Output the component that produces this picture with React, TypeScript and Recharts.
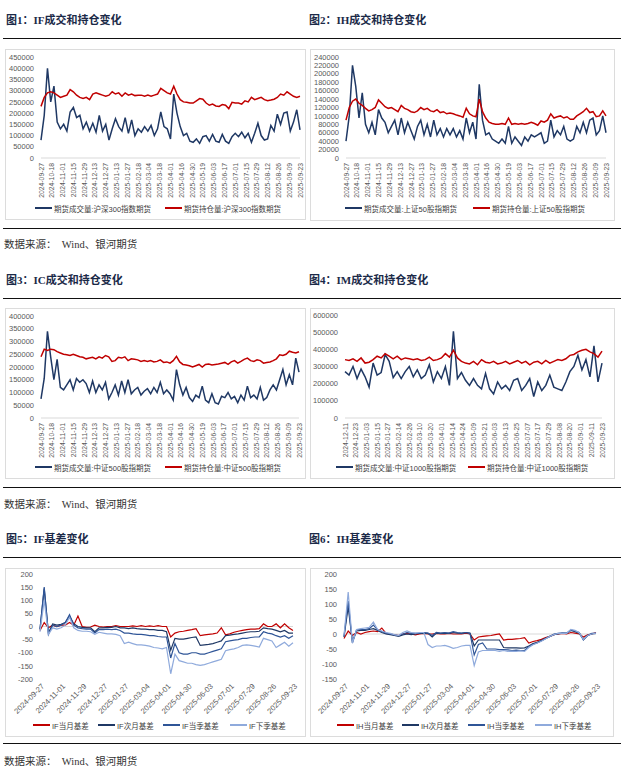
import React from "react";
import { LineChart, Line, XAxis, YAxis, ReferenceLine } from "recharts";

const NAVY = "#1f3864";
const RED = "#c00000";
const BLUE = "#2f5597";
const LIGHT = "#8faadc";
const AXIS_TEXT = "#595959";
const SANS = "'Liberation Sans', 'Noto Sans CJK SC', sans-serif";
const SERIF = "'Liberation Serif', 'Noto Sans CJK SC', serif";

// x-axis labels
const dailyLabels = [
  "2024-09-27", "2024-10-18", "2024-11-01", "2024-11-15", "2024-11-29", "2024-12-13",
  "2024-12-27", "2025-01-13", "2025-01-27", "2025-02-18", "2025-03-04", "2025-03-18",
  "2025-04-01", "2025-04-16", "2025-04-30", "2025-05-19", "2025-06-03", "2025-06-17",
  "2025-07-01", "2025-07-15", "2025-07-29", "2025-08-12", "2025-08-26", "2025-09-09",
  "2025-09-23",
];
const dailyTickDays = [0, 10, 20, 30, 40, 50, 60, 70, 80, 90, 100, 110, 120, 130, 140, 150, 160, 170, 180, 190, 200, 210, 220, 230, 240];

const imLabels = [
  "2024-12-11", "2024-12-23", "2025-01-03", "2025-01-15", "2025-01-27", "2025-02-14",
  "2025-02-26", "2025-03-10", "2025-03-20", "2025-04-01", "2025-04-14", "2025-04-24",
  "2025-05-09", "2025-05-21", "2025-06-03", "2025-06-13", "2025-06-25", "2025-07-07",
  "2025-07-17", "2025-07-29", "2025-08-08", "2025-08-20", "2025-09-01", "2025-09-11",
  "2025-09-23",
];
const imTickDays = [0, 8, 16, 24, 32, 40, 48, 56, 64, 72, 80, 88, 96, 104, 112, 120, 128, 136, 144, 152, 160, 168, 176, 184, 192];

const basisLabels = [
  "2024-09-27", "2024-11-01", "2024-11-29", "2024-12-27", "2025-01-27", "2025-03-04",
  "2025-04-01", "2025-04-30", "2025-06-03", "2025-07-01", "2025-07-29", "2025-08-26",
  "2025-09-23",
];
const basisTickDays = [0, 20, 40, 60, 80, 100, 120, 140, 160, 180, 200, 220, 240];

// y-axis ticks (volume charts in thousands)
const ifTicks = [0, 50, 100, 150, 200, 250, 300, 350, 400, 450];
const ihTicks = [0, 20, 40, 60, 80, 100, 120, 140, 160, 180, 200, 220, 240];
const icTicks = [0, 50, 100, 150, 200, 250, 300, 350, 400];
const imTicks = [0, 100, 200, 300, 400, 500, 600];
const ifBasisTicks = [-200, -150, -100, -50, 0, 50, 100, 150, 200];
const ihBasisTicks = [-150, -100, -50, 0, 50, 100, 150, 200];

// 图1 IF, every 3 trading days, thousands
const ifVolume = [
  80, 190, 400, 250, 320, 160, 130, 150, 120, 205,
  225, 180, 190, 130, 160, 120, 155, 115, 190, 120,
  150, 80, 130, 175, 140, 120, 180, 110, 170, 100,
  130, 115, 140, 120, 145, 100, 130, 205, 140, 130,
  85, 285, 200, 140, 100, 110, 75, 70, 85, 65,
  95, 100, 75, 105, 75, 70, 105, 75, 65, 95,
  110, 95, 115, 90, 110, 70, 110, 155, 100, 80,
  85, 145, 120, 195, 150, 200, 205, 120, 160, 215,
  125,
];
const ifOpenInt = [
  230, 270, 290, 295, 290, 280, 270, 275, 280, 305,
  295, 280, 270, 265, 270, 260, 285, 290, 285, 280,
  275, 280, 295, 285, 290, 275, 290, 280, 285, 278,
  280, 280, 275, 280, 275, 280, 285, 310, 300, 290,
  285, 320, 285, 260, 250, 248, 245, 245, 255, 265,
  262, 245, 235, 240, 232, 230, 238, 235, 220, 248,
  245, 245, 240, 255, 250, 270, 260, 265, 270, 260,
  255, 258, 262, 270, 285, 280, 295, 285, 275, 270,
  275,
];

// 图2 IH
const ihVolume = [
  40, 100, 220, 170, 95, 155, 80, 60, 85, 55,
  115, 95, 85, 60, 75, 90, 55, 95, 60, 85,
  65, 45, 75, 90, 55, 80, 50, 90, 55, 70,
  50, 70, 55, 70, 50, 65, 45, 95, 60, 85,
  45, 175, 90, 55, 60, 45, 40, 35, 45, 35,
  75, 35, 50, 40, 30, 50, 40, 55, 50, 55,
  60, 35, 40, 90, 50, 65, 55, 75, 45, 40,
  45, 75, 60, 85, 60, 90, 95, 55, 65, 100,
  60,
];
const ihOpenInt = [
  90, 120, 135, 140, 130, 125, 118, 112, 115, 120,
  138, 130, 122, 118, 120, 115, 110, 125, 118, 115,
  110, 108, 112, 120, 115, 118, 112, 110, 115, 108,
  110, 105, 107, 105, 102, 100, 97, 118, 105, 100,
  98, 140, 110, 95, 85, 82, 80, 80, 82, 80,
  95, 80, 82, 80, 82, 80, 82, 85, 82, 78,
  88, 85, 90, 105, 95, 98, 100, 95, 98, 92,
  92, 100, 105, 110, 118, 108, 110, 98, 100, 112,
  100,
];

// 图3 IC
const icVolume = [
  75, 155, 340, 240, 150, 230, 120, 110, 130, 150,
  110, 155, 140, 150, 135, 100, 145, 100, 130, 110,
  140, 75, 100, 130, 90, 145, 100, 150, 95, 110,
  120, 90, 105, 115, 95, 120, 100, 140, 95, 110,
  95, 70, 190, 130, 90, 120, 80, 65, 90, 80,
  125, 70, 60, 95, 60, 55, 85, 80, 100, 75,
  85, 60, 90, 70, 125, 80, 90, 75, 120, 70,
  80, 110, 130, 110, 150, 190, 130, 170, 130, 235,
  180,
];
const icOpenInt = [
  240, 270, 265, 270, 268, 260, 255, 250, 248, 245,
  250, 245, 240, 238, 232, 235, 238, 232, 240, 235,
  245, 240, 222, 225, 238, 235, 240, 225, 232, 230,
  228, 222, 225, 222, 225, 220, 222, 228, 218, 220,
  215, 225, 242, 220, 210, 208, 205, 200, 205, 210,
  200, 210, 212, 208, 210, 212, 215, 218, 210, 220,
  225, 215, 222, 230, 235, 225, 222, 228, 225, 215,
  218, 220, 225, 232, 248, 245, 250, 262, 258, 255,
  260,
];

// 图4 IM
const imVolume = [
  270, 250, 300, 230, 285, 240, 180, 320, 250, 265,
  370, 330, 235, 270, 230, 270, 300, 240, 280, 230,
  250, 310, 210, 270, 230, 300, 190, 505, 230, 265,
  220, 190, 230, 190, 170, 260, 170, 140, 210, 170,
  190, 160, 220, 230, 160, 190, 230, 125, 210, 160,
  190, 250, 180, 170, 160, 210, 270, 300, 365, 280,
  340, 240, 420, 210, 320,
];
const imOpenInt = [
  340, 335, 345, 330, 350, 320, 325, 340, 360, 350,
  375, 360, 345, 360, 340, 350, 345, 340, 345, 335,
  340, 355, 335, 340, 350, 375, 355, 395, 350, 330,
  320, 315, 330, 310, 340, 325, 320, 330, 315, 320,
  330, 315, 325, 335, 320, 330, 310, 325, 330, 315,
  335, 320, 330, 340, 335, 345, 365, 370, 385, 395,
  400, 385, 375, 355, 390,
];

// 图5 IF basis, every 4 trading days
const ifFront = [
  -15, 15, -5, 5, 0, 5, 5, 15, 5, 40,
  0, -3, -2, 5, 0, -2, 0, 0, 3, 0,
  0, 0, 2, 0, 3, 0, 2, 0, 3, 0,
  0, -40, -25, -20, -18, -15, -12, -8, -35, -32,
  -30, -28, -25, -5, -32, -28, -22, -18, -15, -12,
  -10, -10, -8, 10, 0, 0, 10, -5, 10, -5,
  -15,
];
const ifNext = [
  -10, 145, -25, 10, 5, 8, 15, 40, 10, 0,
  -3, -5, -5, -20, -5, -5, -3, -3, 0, -5,
  -5, -8, -5, -8, -10, -10, -12, -12, -15, -15,
  -20, -90, -45, -48, -48, -45, -42, -40, -72, -70,
  -68, -65, -60, -55, -35, -33, -30, -28, -25, -22,
  -20, -20, -18, -5, -8, -10, -15, -20, -15, -25,
  -25,
];
const ifQuarter = [
  -12, 150, -30, 5, 0, 5, 15, 45, 5, -5,
  -8, -10, -10, -25, -12, -12, -10, -12, -10, -15,
  -25, -25, -28, -30, -30, -32, -35, -35, -38, -40,
  -40, -120, -65, -100, -105, -105, -100, -100, -105, -105,
  -100, -95, -90, -85, -58, -55, -52, -50, -45, -45,
  -42, -40, -40, -20, -25, -28, -35, -40, -35, -45,
  -35,
];
const ifNextQuarter = [
  -20, 100, -30, -5, -10, -5, 5, 35, -5, -15,
  -18, -18, -20, -30, -22, -25, -28, -28, -30, -35,
  -65, -60, -65, -70, -70, -72, -75, -80, -82, -85,
  -80, -180, -105, -130, -135, -140, -140, -145, -148, -145,
  -140, -135, -130, -125, -92, -88, -85, -80, -72, -70,
  -72, -75, -78, -45, -50, -55, -80, -70, -60, -75,
  -62,
];

// 图6 IH basis
const ihFront = [
  -15, 10, -5, 5, 0, 5, 8, 10, 8, 20,
  2, 0, -3, -5, 0, 2, 0, -3, 0, 2,
  0, 0, 2, 0, 0, 2, 0, 0, 0, 3,
  0, -20, -10, -8, -6, -5, -2, 0, -20, -18,
  -18, -16, -15, -12, -30, -25, -22, -18, -12, -8,
  -2, 0, 2, 0, 5, 3, 0, -10, -3, 0,
  5,
];
const ihNext = [
  -10, 90, -25, 10, 12, 12, 15, 18, 12, 5,
  0, -2, -5, -8, -3, 0, -2, 0, 2, 3,
  2, -10, 3, 2, 3, 2, 5, 3, 2, 5,
  3, -40, -20, -20, -20, -20, -20, -20, -45, -46,
  -46, -46, -47, -46, -40, -32, -28, -22, -15, -8,
  -2, 0, 3, 2, 12, 8, 3, -18, -5, 0,
  2,
];
const ihQuarter = [
  -8, 110, -30, 15, 15, 15, 18, 30, 14, 8,
  3, 0, -3, -5, 0, 5, 2, 2, 3, 5,
  3, -5, 5, 3, 5, 3, 8, 5, 3, 5,
  2, -70, -35, -30, -50, -50, -50, -52, -52, -53,
  -55, -54, -55, -55, -42, -34, -30, -22, -15, -8,
  0, 2, 4, 3, 14, 10, 5, -20, -5, 2,
  3,
];
const ihNextQuarter = [
  -5, 140, -30, 15, 18, 20, 22, 40, 15, 10,
  5, 2, -2, -5, 5, 10, 5, 3, 5, 5,
  -35, -45, -40, -40, -38, -42, -48, -45, -40, -38,
  -38, -105, -60, -55, -55, -55, -55, -58, -55, -58,
  -57, -58, -56, -58, -45, -36, -30, -24, -16, -8,
  -2, 2, 3, 2, 15, 12, 4, -18, -5, 0,
  3,
];

type SeriesDef = { name: string; color: string; values: number[] };
type Box = { x: number; y: number; w: number; h: number };
type Plot = { l: number; t: number; r: number; b: number };

type PanelProps = {
  box: Box;
  plot: Plot;
  series: SeriesDef[];
  span: number;
  tickDays: number[];
  tickLabels: string[];
  yDomain: [number, number];
  yTicks: number[];
  yFormat: (v: number) => string;
  angle: number;
  xFont: number;
  zeroLine?: boolean;
  strokeWidth: number;
  legend: { x: number; y: number }[];
};

const thousands = (v: number) => String(v * 1000);
const plain = (v: number) => String(v);

function Panel(p: PanelProps) {
  const cx = p.box.x + 1;
  const cy = p.box.y + 1;
  const cw = p.box.w - 2;
  const ch = p.box.h - 2;
  const n = p.series[0].values.length;
  const step = p.span / (n - 1);
  const rows = p.series[0].values.map((_, i) => {
    const row: Record<string, number> = { x: i * step };
    p.series.forEach((s, k) => {
      row["s" + k] = s.values[i];
    });
    return row;
  });
  const renderTick = (props: any) => {
    const { x, y, payload } = props;
    const idx = p.tickDays.indexOf(payload.value);
    const dx = p.angle === -45 ? 3 : 0;
    return (
      <text
        transform={`translate(${x + dx},${y}) rotate(${p.angle})`}
        textAnchor="end"
        dominantBaseline="central"
        fontSize={p.xFont}
        fill={AXIS_TEXT}
        fontFamily={SANS}
      >
        {p.tickLabels[idx]}
      </text>
    );
  };
  return (
    <>
      <div
        style={{
          position: "absolute",
          left: p.box.x,
          top: p.box.y,
          width: p.box.w,
          height: p.box.h,
          border: "1px solid #dcdcdc",
          boxSizing: "border-box",
        }}
      />
      <div style={{ position: "absolute", left: cx, top: cy }}>
        <LineChart
          width={cw}
          height={ch}
          data={rows}
          margin={{ top: p.plot.t - cy, right: cx + cw - p.plot.r, bottom: 0, left: 0 }}
        >
          <XAxis
            type="number"
            dataKey="x"
            domain={[0, p.span]}
            ticks={p.tickDays}
            interval={0}
            height={cy + ch - p.plot.b}
            tickSize={0}
            tickMargin={p.angle === -90 ? 5 : 6}
            tickLine={false}
            axisLine={p.zeroLine ? false : { stroke: "#d9d9d9" }}
            tick={renderTick}
          />
          <YAxis
            type="number"
            domain={p.yDomain}
            ticks={p.yTicks}
            interval={0}
            width={p.plot.l - cx}
            tickSize={5}
            tickMargin={2}
            tickLine={false}
            axisLine={false}
            tick={{ fontSize: 7.5, fill: AXIS_TEXT, fontFamily: SANS }}
            tickFormatter={p.yFormat}
          />
          {p.zeroLine && <ReferenceLine y={0} stroke="#d9d9d9" strokeWidth={1} />}
          {p.series.map((s, k) => (
            <Line
              key={s.name}
              type="linear"
              dataKey={"s" + k}
              stroke={s.color}
              strokeWidth={p.strokeWidth}
              dot={false}
              activeDot={false}
              isAnimationActive={false}
            />
          ))}
        </LineChart>
      </div>
      {p.series.map((s, k) => (
        <div
          key={"lg" + k}
          style={{
            position: "absolute",
            left: p.legend[k].x,
            top: p.legend[k].y - 6,
            height: 12,
            display: "flex",
            alignItems: "center",
            whiteSpace: "nowrap",
            fontSize: 7.5,
            fontFamily: SANS,
            color: "#404040",
          }}
        >
          <span style={{ display: "inline-block", width: 17, height: 1.8, background: s.color, marginRight: 2 }} />
          <span>{s.name}</span>
        </div>
      ))}
    </>
  );
}

const Title = ({ x, y, text }: { x: number; y: number; text: string }) => (
  <div
    style={{
      position: "absolute",
      left: x,
      top: y - 8,
      lineHeight: "16px",
      fontSize: 11,
      fontWeight: 700,
      fontFamily: SERIF,
      color: "#1b2a48",
      whiteSpace: "nowrap",
    }}
  >
    {text}
  </div>
);

const Rule = ({ y }: { y: number }) => (
  <div style={{ position: "absolute", left: 3, top: y, width: 618, height: 1.4, background: "#111" }} />
);

const Source = ({ y }: { y: number }) => (
  <div
    style={{
      position: "absolute",
      left: 4,
      top: y - 8,
      lineHeight: "16px",
      fontSize: 10.5,
      fontFamily: SERIF,
      color: "#333",
      whiteSpace: "pre",
    }}
  >
    {"数据来源：  Wind、银河期货"}
  </div>
);

export default function App() {
  return (
    <div style={{ position: "relative", width: 624, height: 776, background: "#fff", overflow: "hidden" }}>
      <style>{"body{margin:0}"}</style>

      <Title x={6} y={20} text="图1：IF成交和持仓变化" />
      <Title x={309} y={20} text="图2：IH成交和持仓变化" />
      <Rule y={38} />
      <Panel
        box={{ x: 5, y: 49, w: 301, h: 171 }}
        plot={{ l: 41, t: 57, r: 300, b: 158 }}
        series={[
          { name: "期货成交量:沪深300指数期货", color: NAVY, values: ifVolume },
          { name: "期货持仓量:沪深300指数期货", color: RED, values: ifOpenInt },
        ]}
        span={240}
        tickDays={dailyTickDays}
        tickLabels={dailyLabels}
        yDomain={[0, 450]}
        yTicks={ifTicks}
        yFormat={thousands}
        angle={-90}
        xFont={6.8}
        strokeWidth={1.5}
        legend={[{ x: 35, y: 208 }, { x: 165, y: 208 }]}
      />
      <Panel
        box={{ x: 310, y: 49, w: 305, h: 172 }}
        plot={{ l: 346, t: 57, r: 606, b: 158 }}
        series={[
          { name: "期货成交量:上证50股指期货", color: NAVY, values: ihVolume },
          { name: "期货持仓量:上证50股指期货", color: RED, values: ihOpenInt },
        ]}
        span={240}
        tickDays={dailyTickDays}
        tickLabels={dailyLabels}
        yDomain={[0, 240]}
        yTicks={ihTicks}
        yFormat={thousands}
        angle={-90}
        xFont={6.8}
        strokeWidth={1.5}
        legend={[{ x: 345, y: 208 }, { x: 473, y: 208 }]}
      />
      <Rule y={228} />
      <Source y={245} />

      <Title x={6} y={280} text="图3：IC成交和持仓变化" />
      <Title x={309} y={280} text="图4：IM成交和持仓变化" />
      <Rule y={298} />
      <Panel
        box={{ x: 5, y: 308, w: 301, h: 171 }}
        plot={{ l: 41, t: 316, r: 299, b: 418 }}
        series={[
          { name: "期货成交量:中证500股指期货", color: NAVY, values: icVolume },
          { name: "期货持仓量:中证500股指期货", color: RED, values: icOpenInt },
        ]}
        span={240}
        tickDays={dailyTickDays}
        tickLabels={dailyLabels}
        yDomain={[0, 400]}
        yTicks={icTicks}
        yFormat={thousands}
        angle={-90}
        xFont={6.8}
        strokeWidth={1.5}
        legend={[{ x: 35, y: 467 }, { x: 165, y: 467 }]}
      />
      <Panel
        box={{ x: 310, y: 308, w: 305, h: 171 }}
        plot={{ l: 345, t: 315, r: 602, b: 418 }}
        series={[
          { name: "期货成交量:中证1000股指期货", color: NAVY, values: imVolume },
          { name: "期货持仓量:中证1000股指期货", color: RED, values: imOpenInt },
        ]}
        span={192}
        tickDays={imTickDays}
        tickLabels={imLabels}
        yDomain={[0, 600]}
        yTicks={imTicks}
        yFormat={thousands}
        angle={-90}
        xFont={6.8}
        strokeWidth={1.5}
        legend={[{ x: 336, y: 467 }, { x: 468, y: 467 }]}
      />
      <Rule y={487} />
      <Source y={505} />

      <Title x={6} y={539} text="图5：IF基差变化" />
      <Title x={309} y={539} text="图6：IH基差变化" />
      <Rule y={557} />
      <Panel
        box={{ x: 5, y: 568, w: 301, h: 169 }}
        plot={{ l: 40, t: 574, r: 293, b: 679 }}
        series={[
          { name: "IF当月基差", color: RED, values: ifFront },
          { name: "IF次月基差", color: NAVY, values: ifNext },
          { name: "IF当季基差", color: BLUE, values: ifQuarter },
          { name: "IF下季基差", color: LIGHT, values: ifNextQuarter },
        ]}
        span={240}
        tickDays={basisTickDays}
        tickLabels={basisLabels}
        yDomain={[-200, 200]}
        yTicks={ifBasisTicks}
        yFormat={plain}
        angle={-45}
        xFont={7.6}
        zeroLine
        strokeWidth={1.2}
        legend={[{ x: 33, y: 725 }, { x: 98, y: 725 }, { x: 163, y: 725 }, { x: 230, y: 725 }]}
      />
      <Panel
        box={{ x: 310, y: 568, w: 304, h: 169 }}
        plot={{ l: 344, t: 574, r: 596, b: 679 }}
        series={[
          { name: "IH当月基差", color: RED, values: ihFront },
          { name: "IH次月基差", color: NAVY, values: ihNext },
          { name: "IH当季基差", color: BLUE, values: ihQuarter },
          { name: "IH下季基差", color: LIGHT, values: ihNextQuarter },
        ]}
        span={240}
        tickDays={basisTickDays}
        tickLabels={basisLabels}
        yDomain={[-150, 200]}
        yTicks={ihBasisTicks}
        yFormat={plain}
        angle={-45}
        xFont={7.6}
        zeroLine
        strokeWidth={1.2}
        legend={[{ x: 337, y: 725 }, { x: 402, y: 725 }, { x: 468, y: 725 }, { x: 535, y: 725 }]}
      />
      <Rule y={743} />
      <Source y={762} />
    </div>
  );
}
